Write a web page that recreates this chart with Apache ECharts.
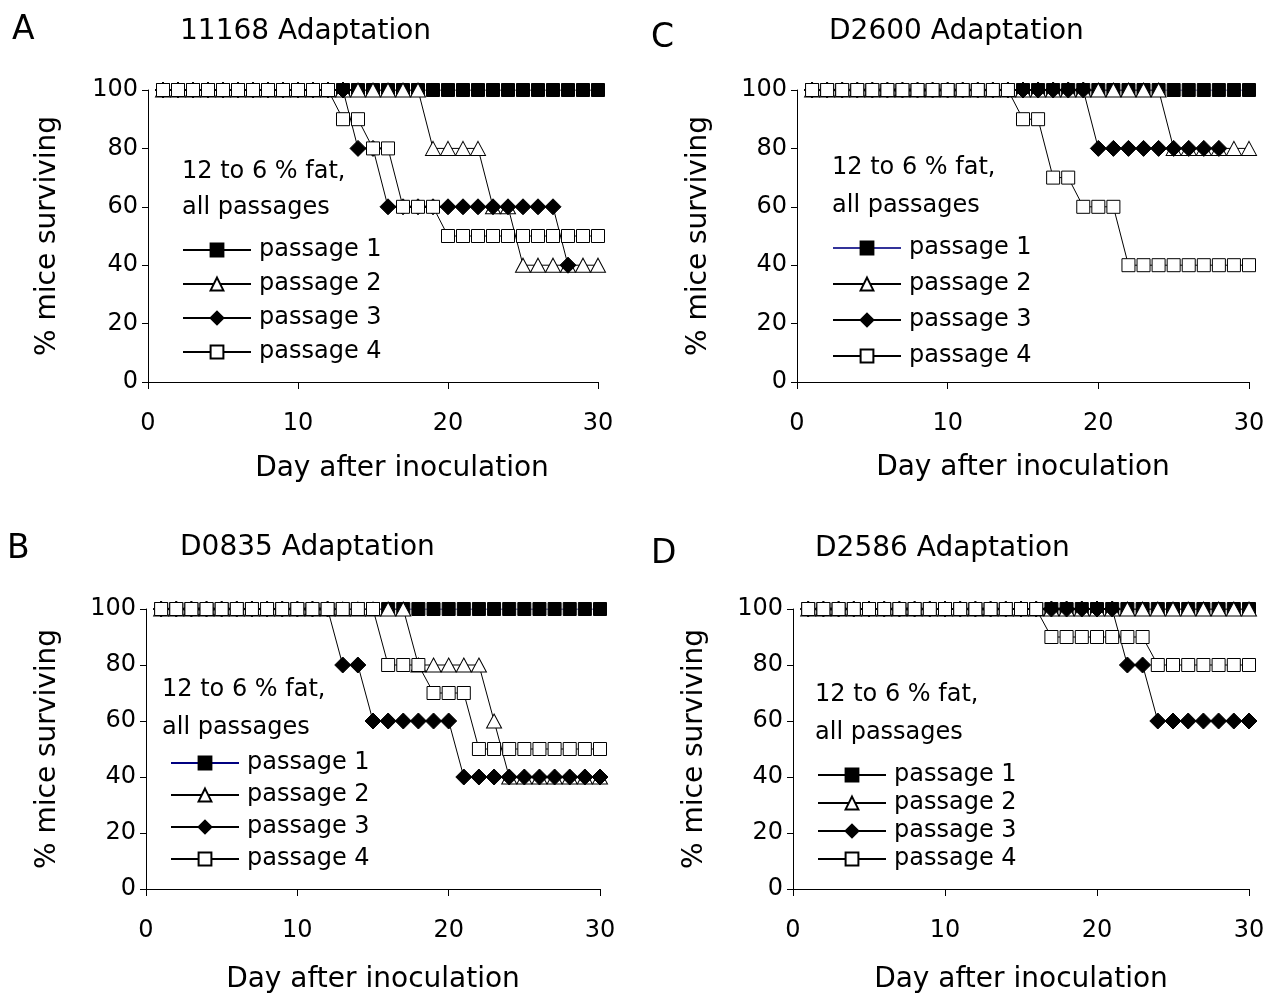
<!DOCTYPE html>
<html>
<head>
<meta charset="utf-8">
<script src="https://cdn.jsdelivr.net/npm/echarts@6/dist/echarts.min.js"></script>
<style>
  html, body { margin: 0; padding: 0; background: #fff; }
  #chart { width: 1268px; height: 997px; }
</style>
</head>
<body>
<div id="chart"></div>
<script>
// days after inoculation
const days = [1, 2, 3, 4, 5, 6, 7, 8, 9, 10, 11, 12, 13, 14, 15, 16, 17, 18, 19, 20, 21, 22, 23, 24, 25, 26, 27, 28, 29, 30]
const xTicks = [0, 10, 20, 30]
const yTicks = [0, 20, 40, 60, 80, 100]
const passageNames = ['passage 1', 'passage 2', 'passage 3', 'passage 4']

// A - 11168
const a1 = [100, 100, 100, 100, 100, 100, 100, 100, 100, 100, 100, 100, 100, 100, 100, 100, 100, 100, 100, 100, 100, 100, 100, 100, 100, 100, 100, 100, 100, 100]
const a2 = [100, 100, 100, 100, 100, 100, 100, 100, 100, 100, 100, 100, 100, 100, 100, 100, 100, 100, 80, 80, 80, 80, 60, 60, 40, 40, 40, 40, 40, 40]
const a3 = [100, 100, 100, 100, 100, 100, 100, 100, 100, 100, 100, 100, 100, 80, 80, 60, 60, 60, 60, 60, 60, 60, 60, 60, 60, 60, 60, 40]
const a4 = [100, 100, 100, 100, 100, 100, 100, 100, 100, 100, 100, 100, 90, 90, 80, 80, 60, 60, 60, 50, 50, 50, 50, 50, 50, 50, 50, 50, 50, 50]

// C - D2600
const c1 = [100, 100, 100, 100, 100, 100, 100, 100, 100, 100, 100, 100, 100, 100, 100, 100, 100, 100, 100, 100, 100, 100, 100, 100, 100, 100, 100, 100, 100, 100]
const c2 = [100, 100, 100, 100, 100, 100, 100, 100, 100, 100, 100, 100, 100, 100, 100, 100, 100, 100, 100, 100, 100, 100, 100, 100, 80, 80, 80, 80, 80, 80]
const c3 = [100, 100, 100, 100, 100, 100, 100, 100, 100, 100, 100, 100, 100, 100, 100, 100, 100, 100, 100, 80, 80, 80, 80, 80, 80, 80, 80, 80]
const c4 = [100, 100, 100, 100, 100, 100, 100, 100, 100, 100, 100, 100, 100, 100, 90, 90, 70, 70, 60, 60, 60, 40, 40, 40, 40, 40, 40, 40, 40, 40]

// B - D0835
const b1 = [100, 100, 100, 100, 100, 100, 100, 100, 100, 100, 100, 100, 100, 100, 100, 100, 100, 100, 100, 100, 100, 100, 100, 100, 100, 100, 100, 100, 100, 100]
const b2 = [100, 100, 100, 100, 100, 100, 100, 100, 100, 100, 100, 100, 100, 100, 100, 100, 100, 80, 80, 80, 80, 80, 60, 40, 40, 40, 40, 40, 40, 40]
const b3 = [100, 100, 100, 100, 100, 100, 100, 100, 100, 100, 100, 100, 80, 80, 60, 60, 60, 60, 60, 60, 40, 40, 40, 40, 40, 40, 40, 40, 40, 40]
const b4 = [100, 100, 100, 100, 100, 100, 100, 100, 100, 100, 100, 100, 100, 100, 100, 80, 80, 80, 70, 70, 70, 50, 50, 50, 50, 50, 50, 50, 50, 50]

// D - D2586
const d1 = [100, 100, 100, 100, 100, 100, 100, 100, 100, 100, 100, 100, 100, 100, 100, 100, 100, 100, 100, 100, 100, 100, 100, 100, 100, 100, 100, 100, 100, 100]
const d2 = [100, 100, 100, 100, 100, 100, 100, 100, 100, 100, 100, 100, 100, 100, 100, 100, 100, 100, 100, 100, 100, 100, 100, 100, 100, 100, 100, 100, 100, 100]
const d3 = [100, 100, 100, 100, 100, 100, 100, 100, 100, 100, 100, 100, 100, 100, 100, 100, 100, 100, 100, 100, 100, 80, 80, 60, 60, 60, 60, 60, 60, 60]
const d4 = [100, 100, 100, 100, 100, 100, 100, 100, 100, 100, 100, 100, 100, 100, 100, 100, 90, 90, 90, 90, 90, 90, 90, 80, 80, 80, 80, 80, 80, 80]

const FONT = 'DejaVu Sans'

// marker look for passage 1..4
const markers = [
  { symbol: 'rect', size: 13, fill: '#000' },
  { symbol: 'triangle', size: [15, 14], fill: '#fff' },
  { symbol: 'diamond', size: [16, 16], fill: '#000' },
  { symbol: 'rect', size: 13, fill: '#fff' }
]

const panels = [
  {
    key: 'A', title: '11168 Adaptation', series: [a1, a2, a3, a4], p1Line: '#000',
    grid: { left: 148, top: 90, width: 450, height: 292 },
    letterPos: [12, 14], titlePos: [180, 18],
    notePos: [182, 154], noteLH: 36,
    legendPos: [182, 238], legendGap: 10,
    xNameGap: 73, xNameShift: 58, yNameGap: 86
  },
  {
    key: 'C', title: 'D2600 Adaptation', series: [c1, c2, c3, c4], p1Line: '#333399',
    grid: { left: 797, top: 90, width: 452, height: 292 },
    letterPos: [651, 22], titlePos: [829, 18],
    notePos: [832, 149], noteLH: 38,
    legendPos: [832, 236], legendGap: 12,
    xNameGap: 72, xNameShift: 0, yNameGap: 84
  },
  {
    key: 'B', title: 'D0835 Adaptation', series: [b1, b2, b3, b4], p1Line: '#000080',
    grid: { left: 146, top: 609, width: 454, height: 280 },
    letterPos: [7, 533], titlePos: [180, 534],
    notePos: [162, 671], noteLH: 38,
    legendPos: [170, 751], legendGap: 8,
    xNameGap: 77, xNameShift: 0, yNameGap: 84
  },
  {
    key: 'D', title: 'D2586 Adaptation', series: [d1, d2, d3, d4], p1Line: '#000',
    grid: { left: 793, top: 609, width: 456, height: 280 },
    letterPos: [651, 538], titlePos: [815, 535],
    notePos: [815, 676], noteLH: 38,
    legendPos: [817, 763], legendGap: 4,
    xNameGap: 77, xNameShift: 0, yNameGap: 84
  }
]

const grid = []
const xAxis = []
const yAxis = []
const series = []
const legend = []
const title = []

panels.forEach((p, i) => {
  grid.push(p.grid)

  xAxis.push({
    gridIndex: i,
    type: 'value',
    min: xTicks[0],
    max: xTicks[xTicks.length - 1],
    interval: xTicks[1] - xTicks[0],
    name: 'Day after inoculation',
    nameLocation: 'middle',
    nameGap: p.xNameGap,
    nameTextStyle: { fontFamily: FONT, fontSize: 28, color: '#000', padding: [0, 0, 0, p.xNameShift] },
    axisLine: { onZero: false, lineStyle: { color: '#000', width: 1 } },
    axisTick: { show: true, inside: false, length: 7, lineStyle: { color: '#000' } },
    axisLabel: { fontFamily: FONT, fontSize: 24, color: '#000', margin: 30 },
    splitLine: { show: false }
  })

  yAxis.push({
    gridIndex: i,
    type: 'value',
    min: yTicks[0],
    max: yTicks[yTicks.length - 1],
    interval: yTicks[1] - yTicks[0],
    name: '% mice surviving',
    nameLocation: 'middle',
    nameGap: p.yNameGap,
    nameTextStyle: { fontFamily: FONT, fontSize: 28, color: '#000' },
    axisLine: { show: true, lineStyle: { color: '#000', width: 1 } },
    axisTick: { show: true, inside: false, length: 6, lineStyle: { color: '#000' } },
    axisLabel: { fontFamily: FONT, fontSize: 24, color: '#000', margin: 10 },
    splitLine: { show: false }
  })

  const names = []
  p.series.forEach((vals, j) => {
    const m = markers[j]
    const name = p.key + '|' + passageNames[j]
    names.push(name)
    series.push({
      name: name,
      type: 'line',
      xAxisIndex: i,
      yAxisIndex: i,
      data: vals.map((v, k) => [days[k], v]),
      symbol: m.symbol,
      symbolSize: m.size,
      showAllSymbol: true,
      lineStyle: { color: j === 0 ? p.p1Line : '#000', width: 1 },
      itemStyle: { color: m.fill, borderColor: '#000', borderWidth: 1 },
      emphasis: { disabled: true }
    })
  })

  legend.push({
    data: names,
    left: p.legendPos[0],
    top: p.legendPos[1],
    orient: 'vertical',
    padding: 0,
    itemGap: p.legendGap,
    itemWidth: 68,
    itemHeight: 16,
    selectedMode: false,
    formatter: (n) => n.split('|')[1],
    textStyle: { fontFamily: FONT, fontSize: 24, lineHeight: 24, color: '#000', padding: [0, 0, 0, 3] }
  })

  title.push({
    text: p.key,
    left: p.letterPos[0],
    top: p.letterPos[1],
    padding: 0,
    textStyle: { fontFamily: FONT, fontSize: 33, lineHeight: 33, fontWeight: 'normal', color: '#000' }
  })
  title.push({
    text: p.title,
    left: p.titlePos[0],
    top: p.titlePos[1],
    padding: 0,
    textStyle: { fontFamily: FONT, fontSize: 28, lineHeight: 28, fontWeight: 'normal', color: '#000' }
  })
  title.push({
    text: '12 to 6 % fat,\nall passages',
    left: p.notePos[0],
    top: p.notePos[1],
    padding: 0,
    textStyle: { fontFamily: FONT, fontSize: 24, lineHeight: p.noteLH, fontWeight: 'normal', color: '#000' }
  })
})

const myChart = echarts.init(document.getElementById('chart'))
myChart.setOption({
  animation: false,
  backgroundColor: '#fff',
  title: title,
  legend: legend,
  grid: grid,
  xAxis: xAxis,
  yAxis: yAxis,
  series: series
})
</script>
</body>
</html>
